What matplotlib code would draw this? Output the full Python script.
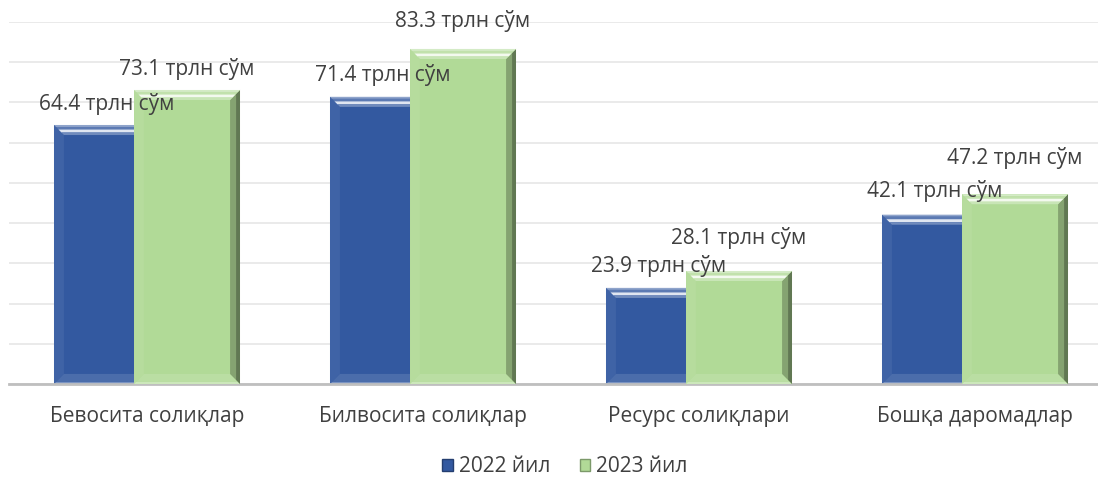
import numpy as np
import matplotlib.pyplot as plt
from matplotlib.patches import Polygon, Patch

plt.rcParams['font.family'] = ['Open Sans', 'DejaVu Sans']

categories = ["Бевосита солиқлар", "Билвосита солиқлар", "Ресурс солиқлари", "Бошқа даромадлар"]
series_names = ["2022 йил", "2023 йил"]
values_2022 = [64.4, 71.4, 23.9, 42.1]
values_2023 = [73.1, 83.3, 28.1, 47.2]
unit = "трлн сўм"

blue = '#3359A0'
green = '#B1DA97'
text_col = '#404040'

# label lift above each bar top, in points
lift_2022 = [15, 16, 16, 17]
lift_2023 = [15, 20, 24, 26]

fig = plt.figure(figsize=(10.98, 4.79), dpi=100)
ax = fig.add_axes([9/1098, 95/479, 1104/1098, 362/479])

x = np.arange(len(categories))
width = 0.384
offset = 0.145


def shade(c, f):
    c = np.array(plt.matplotlib.colors.to_rgb(c))
    if f > 0:
        return tuple(c + (1 - c) * f)
    return tuple(c * (1 + f))


def bevel(rect, color, z):
    # rough excel-style bevel made of strips
    x0, y0 = rect.get_x(), rect.get_y()
    w, h = rect.get_width(), rect.get_height()
    bx, by = 0.036, 2.5
    x1, y1 = x0 + w, y0 + h

    def strip(side, a, b, col):
        if side == 'top':
            pts = [(x0 + bx*a, y1 - by*a), (x1 - bx*a, y1 - by*a),
                   (x1 - bx*b, y1 - by*b), (x0 + bx*b, y1 - by*b)]
        elif side == 'bottom':
            pts = [(x0 + bx*a, y0 + by*a), (x1 - bx*a, y0 + by*a),
                   (x1 - bx*b, y0 + by*b), (x0 + bx*b, y0 + by*b)]
        elif side == 'right':
            pts = [(x1 - bx*a, y1 - by*a), (x1 - bx*a, y0 + by*a),
                   (x1 - bx*b, y0 + by*b), (x1 - bx*b, y1 - by*b)]
        else:
            pts = [(x0 + bx*a, y1 - by*a), (x0 + bx*a, y0 + by*a),
                   (x0 + bx*b, y0 + by*b), (x0 + bx*b, y1 - by*b)]
        ax.add_patch(Polygon(pts, closed=True, color=col, lw=0, zorder=z))

    strip('left', 0, 1, shade(color, 0.06))
    strip('bottom', 0, 0.2, shade(color, 0.35))
    strip('bottom', 0.2, 1, shade(color, 0.12))
    strip('right', 0, 0.4, shade(color, -0.45))
    strip('right', 0.4, 1, shade(color, -0.25))
    strip('top', 0, 0.2, shade(color, 0.45))
    strip('top', 0.2, 0.45, shade(color, 0.2))
    strip('top', 0.45, 0.75, shade(color, 0.85))
    strip('top', 0.75, 1, shade(color, 0.3))


bars1 = ax.bar(x - offset, values_2022, width, color=blue, zorder=2)
for r in bars1:
    bevel(r, blue, 2.1)
bars2 = ax.bar(x + offset, values_2023, width, color=green, zorder=3)
for r in bars2:
    bevel(r, green, 3.1)

for bars, vals, lifts in ((bars1, values_2022, lift_2022), (bars2, values_2023, lift_2023)):
    for r, v, lf in zip(bars, vals, lifts):
        ax.annotate(f"{v} {unit}", (r.get_x() + r.get_width() / 2, v),
                    xytext=(0, lf), textcoords='offset points', ha='center', va='center',
                    fontsize=15, color=text_col, zorder=5)

ax.set_xlim(-0.5, len(categories) - 0.5)
ax.set_ylim(0, 90)
ax.set_yticks(np.arange(0, 91, 10))
ax.yaxis.grid(True, color='#E6E6E6', lw=1.2, zorder=0)
ax.set_axisbelow(True)
ax.tick_params(axis='y', left=False, labelleft=False)
ax.tick_params(axis='x', bottom=False, labelsize=15, labelcolor=text_col, pad=12)
ax.set_xticks(x)
ax.set_xticklabels(categories)
for s in ('top', 'right', 'left'):
    ax.spines[s].set_visible(False)
ax.spines['bottom'].set_color('#BFBFBF')
ax.spines['bottom'].set_linewidth(2)

handles = [Patch(facecolor=blue, edgecolor=shade(blue, -0.3)),
           Patch(facecolor=green, edgecolor=shade(green, -0.3))]
fig.legend(handles, series_names, loc='center', bbox_to_anchor=(565/1098, 12/479), ncol=2,
           frameon=False, fontsize=15, labelcolor=text_col, handlelength=0.5, handleheight=0.5,
           handletextpad=0.3, columnspacing=1.4)

fig.savefig('out.png', dpi=100)
